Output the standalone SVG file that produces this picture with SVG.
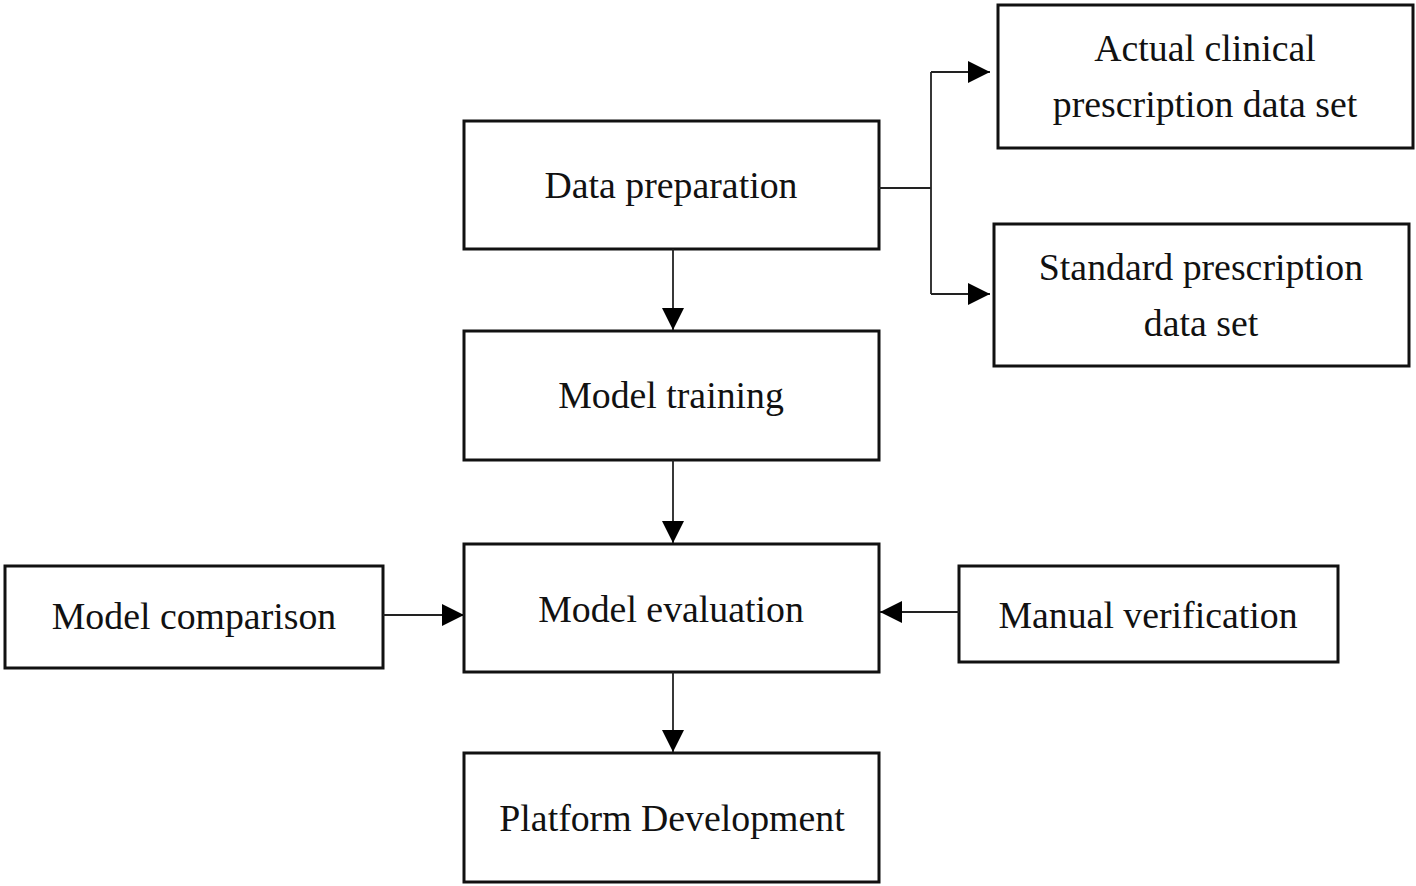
<svg xmlns="http://www.w3.org/2000/svg" width="1416" height="886" viewBox="0 0 1416 886">
<style>
.box{fill:#fff;stroke:#111;stroke-width:3}
.t{font-family:"Liberation Serif","Times New Roman",serif;font-size:37.8px;fill:#111;text-anchor:middle}
.c{fill:none;stroke:#222;stroke-width:1.8}
</style>
<defs>
<marker id="ahb" markerWidth="22" markerHeight="22" refX="22" refY="11" orient="auto" markerUnits="userSpaceOnUse" viewBox="0 0 22 22">
<path d="M0,0 L22,11 L0,22 Z" fill="#000"/>
</marker>
</defs>
<rect width="1416" height="886" fill="#fff"/>
<g id="data-preparation"><rect class="box" x="464" y="121" width="415" height="128"/><text class="t" x="671" y="198">Data preparation</text></g>
<g id="actual-clinical"><rect class="box" x="998" y="5" width="415" height="143"/><text class="t" x="1205" y="61">Actual clinical</text><text class="t" x="1205" y="117">prescription data set</text></g>
<g id="standard-prescription"><rect class="box" x="994" y="224" width="415" height="142"/><text class="t" x="1201" y="280">Standard prescription</text><text class="t" x="1201" y="336">data set</text></g>
<g id="model-training"><rect class="box" x="464" y="331" width="415" height="129"/><text class="t" x="671" y="408">Model training</text></g>
<g id="model-evaluation"><rect class="box" x="464" y="544" width="415" height="128"/><text class="t" x="671" y="622">Model evaluation</text></g>
<g id="model-comparison"><rect class="box" x="5" y="566" width="378" height="102"/><text class="t" x="194" y="629">Model comparison</text></g>
<g id="manual-verification"><rect class="box" x="959" y="566" width="379" height="96"/><text class="t" x="1148" y="628">Manual verification</text></g>
<g id="platform-development"><rect class="box" x="464" y="753" width="415" height="129"/><text class="t" x="672" y="831">Platform Development</text></g>
<g id="connectors">
<path class="c" d="M879,188 H931 M931,72 V294"/>
<path class="c" d="M931,72 H990" marker-end="url(#ahb)"/>
<path class="c" d="M931,294 H990" marker-end="url(#ahb)"/>
<path class="c" d="M673,249 V330" marker-end="url(#ahb)"/>
<path class="c" d="M673,460 V543" marker-end="url(#ahb)"/>
<path class="c" d="M673,672 V752" marker-end="url(#ahb)"/>
<path class="c" d="M383,615 H464" marker-end="url(#ahb)"/>
<path class="c" d="M959,612 H880" marker-end="url(#ahb)"/>
</g>
</svg>
